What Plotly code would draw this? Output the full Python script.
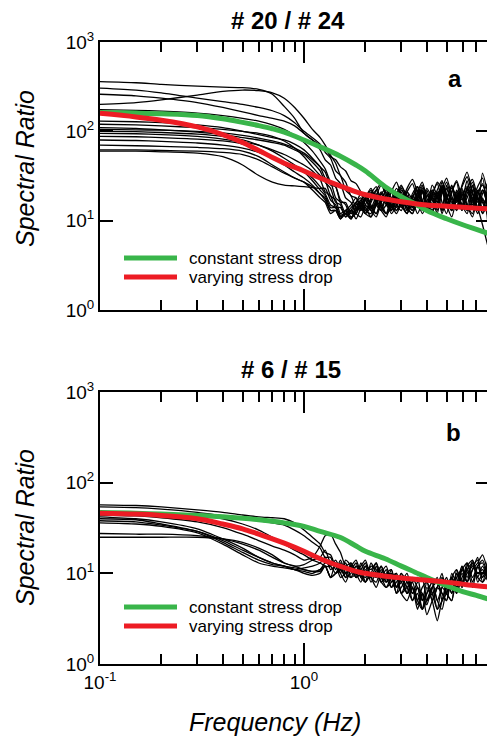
import plotly.graph_objects as go

W, H = 487, 738

# ---------------- data ----------------
FREQ_LOW = [0.1, 0.15, 0.2, 0.3, 0.4, 0.5, 0.6, 0.7, 0.8, 0.9, 1.0, 1.1]
FREQ_HIGH = [1.2, 1.27, 1.35, 1.43, 1.51, 1.6, 1.7, 1.8, 1.9, 2.0,
             2.13, 2.26, 2.39, 2.53, 2.68, 2.84, 3.0, 3.2, 3.4, 3.6,
             3.8, 4.0, 4.25, 4.5, 4.75, 5.0, 5.3, 5.6, 5.95, 6.3,
             6.7, 7.1, 7.5, 8.0]
FREQ = FREQ_LOW + FREQ_HIGH

# panel a: individual spectral ratios (#20 / #24)
A01 = [360, 350, 335, 320, 312, 308, 295, 260, 190, 140, 95, 80,
       70, 64, 52, 48, 40, 36, 28, 26, 21, 17, 14, 19, 25, 20, 15, 12, 16, 23, 29, 21,
       16, 13, 19, 27, 22, 15, 11, 18, 24, 31, 20, 14, 22, 17]
A02 = [305, 290, 270, 235, 215, 200, 185, 170, 150, 125, 100, 85,
       72, 58, 50, 36, 32, 22, 19, 14, 13, 18, 23, 17, 13, 15, 21, 27, 19, 14, 12, 17,
       24, 20, 15, 22, 28, 17, 13, 19, 14, 23, 29, 18, 12, 16]
A03 = [200, 210, 225, 255, 280, 290, 285, 270, 235, 185, 140, 105,
       85, 70, 54, 44, 32, 27, 19, 18, 14, 12, 16, 22, 26, 18, 13, 17, 24, 19, 15, 21,
       27, 18, 13, 16, 23, 30, 19, 14, 25, 35, 21, 13, 18, 11]
A04 = [260, 250, 235, 210, 185, 165, 150, 140, 130, 115, 95, 80,
       62, 48, 42, 30, 26, 18, 16, 12, 11, 15, 20, 24, 16, 12, 14, 20, 25, 17, 13, 18,
       23, 15, 20, 26, 16, 12, 21, 28, 18, 13, 17, 24, 30, 8]
A05 = [175, 172, 168, 160, 150, 140, 130, 118, 105, 90, 75, 60,
       46, 38, 27, 24, 17, 15, 11, 12, 16, 20, 15, 12, 17, 22, 18, 13, 16, 21, 26, 17,
       12, 15, 22, 18, 27, 20, 13, 17, 23, 15, 11, 19, 26, 14]
A06 = [130, 128, 125, 118, 110, 100, 92, 85, 80, 72, 62, 50,
       40, 30, 27, 18, 16, 12, 13, 10.5, 14, 18, 13, 16, 21, 17, 12, 15, 22, 18, 14, 20,
       25, 16, 12, 19, 23, 15, 21, 27, 14, 18, 24, 13, 34, 19]
A07 = [120, 118, 115, 110, 105, 100, 95, 88, 78, 65, 52, 40,
       32, 28, 19, 17, 12, 13, 10.5, 13, 17, 14, 11, 15, 20, 16, 13, 19, 16, 12, 18, 24,
       17, 13, 21, 16, 25, 19, 14, 22, 17, 28, 15, 21, 16, 12]
A08 = [110, 108, 104, 98, 92, 85, 80, 75, 70, 62, 55, 45,
       36, 27, 23, 16, 15, 11, 13, 12, 16, 13, 18, 22, 15, 12, 17, 23, 19, 14, 12, 18,
       21, 14, 25, 19, 13, 17, 24, 18, 13, 20, 27, 16, 22, 14]
A09 = [100, 99, 97, 93, 88, 80, 70, 60, 50, 42, 35, 28,
       22, 19, 14, 14, 11.5, 12, 10.5, 14, 16, 12, 11, 16, 20, 15, 13, 18, 14, 21, 17, 12,
       16, 23, 18, 14, 20, 27, 17, 13, 19, 24, 14, 21, 17, 11]
A10 = [95, 94, 92, 88, 82, 76, 70, 62, 55, 48, 42, 36,
       29, 21, 19, 14, 14, 11, 13, 16, 18, 13, 12, 17, 14, 19, 22, 15, 18, 13, 20, 24,
       14, 19, 17, 12, 21, 18, 25, 16, 20, 13, 22, 18, 14, 20]
A11 = [88, 87, 85, 82, 78, 72, 62, 52, 45, 40, 36, 30,
       24, 20, 15, 14, 11, 12, 10.5, 15, 17, 20, 14, 12, 17, 21, 13, 18, 23, 15, 13, 19,
       22, 14, 18, 13, 24, 19, 14, 21, 15, 23, 18, 13, 20, 27]
A12 = [80, 79, 77, 74, 70, 65, 58, 50, 42, 35, 30, 25,
       20, 17, 13, 13, 10.5, 13, 15, 18, 14, 12, 17, 20, 14, 12, 18, 14, 21, 13, 19, 16,
       22, 14, 18, 21, 13, 23, 16, 19, 14, 22, 17, 12, 17, 15]
A13 = [70, 69, 68, 66, 64, 60, 52, 42, 35, 30, 27, 22,
       18, 16, 12, 13, 10.5, 12, 14, 16, 20, 15, 13, 11, 16, 19, 21, 15, 13, 19, 14, 18,
       13, 22, 15, 19, 12, 18, 23, 14, 21, 15, 25, 17, 22, 14]
A14 = [62, 62, 61, 60, 58, 55, 48, 40, 34, 30, 27, 24,
       20, 18, 13, 13, 10.5, 13, 12, 16, 13, 17, 21, 15, 13, 18, 14, 20, 15, 12, 18, 22,
       15, 13, 19, 14, 22, 16, 13, 21, 15, 12, 20, 14, 9, 5]
A15 = [60, 60, 59, 57, 52, 42, 32, 27, 25, 24.5, 24, 23.5,
       23, 23, 17, 15, 11, 12, 10.5, 13, 15, 18, 22, 16, 13, 11, 16, 20, 15, 12, 18, 14,
       21, 15, 13, 20, 23, 14, 18, 13, 22, 15, 12, 21, 25, 16]
A16 = [105, 104, 103, 100, 96, 90, 84, 78, 72, 65, 57, 48,
       40, 35, 25, 24, 16, 16, 12, 13, 15, 12, 14, 16, 20, 23, 15, 13, 17, 21, 14, 24,
       16, 13, 22, 18, 14, 25, 15, 20, 13, 23, 16, 22, 12, 27]
A_CURVES = [A01, A02, A03, A04, A05, A06, A07, A08, A09, A10, A11, A12, A13, A14, A15, A16]

# panel b: individual spectral ratios (#6 / #15)
B01 = [57, 56, 54, 50, 47, 44, 42, 41, 40, 36, 30, 25,
       21, 17, 16, 12, 13, 10, 12, 14, 10, 9, 12, 11, 8, 9, 10, 7, 9, 6, 8, 9,
       5, 6, 8, 5, 7, 9, 6, 10, 8, 13, 9, 12, 14, 9]
B02 = [54, 53, 51, 47, 43, 40, 38, 36, 34, 30, 26, 22,
       19, 15, 15, 11, 14, 10, 9, 12, 11, 8, 10, 13, 9, 11, 7, 8, 10, 6, 7, 5,
       7, 8, 5, 7, 10, 6, 9, 11, 7, 12, 14, 8, 10, 13]
B03 = [42, 40, 37, 31, 24, 19, 15, 13, 12, 11.5, 11, 10.5,
       11, 13, 12, 10, 11, 13, 9, 10, 12, 14, 9, 8, 11, 9, 10, 6, 7, 9, 5, 7,
       4, 6, 8, 5, 4, 7, 9, 6, 12, 8, 11, 15, 8, 10]
B04 = [40, 39, 35, 29, 22, 17, 14, 12.5, 12, 11, 10.5, 10,
       11, 12, 9, 10, 12, 9, 13, 10, 8, 11, 9, 7, 10, 12, 8, 9, 6, 8, 7, 4.5,
       6, 5, 7, 9, 5, 8, 6, 10, 7, 11, 13, 9, 12, 8]
B05 = [38, 37, 34, 29, 23, 18, 15, 13, 12, 11, 11.5, 12,
       13, 15, 11, 12, 9, 10, 11, 13, 9, 12, 8, 10, 9, 7, 8, 10, 6, 5, 7, 4,
       6, 3.5, 5, 7, 9, 6, 5, 11, 8, 10, 12, 14, 9, 13]
B06 = [36, 35, 33, 28, 21, 16, 13, 12, 11.5, 11, 10, 9.5,
       10, 12, 9, 13, 10, 8, 11, 9, 10, 8, 13, 10, 8, 7, 9, 10, 6, 7, 8, 5,
       4, 7, 5, 3, 5, 6, 9, 7, 10, 8, 11, 13, 16, 10]
B07 = [27.5, 27, 27, 26, 24, 21, 18, 15, 13, 12, 12.5, 14,
       15, 18, 13, 13, 10, 14, 12, 9, 13, 10, 9, 12, 8, 10, 11, 7, 8, 10, 6, 8,
       9, 5, 6, 7, 6, 5, 9, 7, 11, 13, 8, 12, 9, 14]
B08 = [25, 25, 25, 25, 24, 22, 19, 16, 13, 12, 11, 10.5,
       10.5, 12, 9, 10, 11, 9, 10, 12, 9, 8, 10, 9, 12, 8, 9, 6, 9, 7, 5, 6,
       4, 5, 7, 4, 5, 7, 8, 6, 9, 11, 7, 12, 13, 8]
B09 = [44, 43, 41, 37, 32, 27, 23, 20, 18, 16, 14, 15,
       20, 26, 27, 21, 17, 12, 13, 10, 11, 13, 9, 10, 12, 9, 7, 9, 8, 6, 9, 7,
       6, 4.5, 7, 8, 6, 5, 10, 8, 12, 9, 13, 9, 8, 15]
B10 = [48, 47, 46, 44, 40, 35, 30, 25, 21, 18, 16, 14,
       13, 12, 12, 14, 11, 10, 12, 9, 10, 12, 11, 13, 9, 8, 11, 7, 10, 8, 6, 7,
       5, 8, 6, 4, 7, 6, 5, 9, 11, 8, 14, 10, 11, 8]
B_CURVES = [B01, B02, B03, B04, B05, B06, B07, B08, B09, B10]

# model fits
MODEL_FREQ = [0.1, 0.15, 0.2, 0.3, 0.4, 0.5, 0.6, 0.7, 0.8, 1.0, 1.2,
              1.5, 1.8, 2.0, 2.5, 3.0, 3.5, 4.0, 5.0, 6.0, 7.0, 8.0]
A_CONST = [163, 160, 157, 150, 138, 126, 116, 107, 98, 80, 67,
           53, 42, 36, 24, 18.5, 15.5, 13, 10.5, 9, 8, 7.2]
A_VARY = [159, 145, 133, 112, 92, 75, 61, 51, 44, 36, 30,
          24.5, 21, 19.5, 17.5, 16.3, 15.5, 15, 14.5, 14.1, 13.8, 13.6]
B_CONST = [46.8, 46, 45, 43.4, 42, 40.5, 39, 37.5, 36, 33, 29,
           25, 20, 17.5, 14.5, 12, 10.3, 9.0, 7.3, 6.3, 5.7, 5.2]
B_VARY = [46, 45, 43.5, 40, 35, 31, 27, 24, 21.5, 17.5, 14.5,
          12, 10.5, 10, 9.3, 8.9, 8.6, 8.4, 8.0, 7.6, 7.3, 7.1]

X_TICKS = [0.1, 1]
X_TICK_TEXT = ["10<sup>-1</sup>", "10<sup>0</sup>"]
X_MINOR = [0.2, 0.3, 0.4, 0.5, 0.6, 0.7, 0.8, 0.9, 2, 3, 4, 5, 6, 7, 8]
Y_TICKS = [1, 10, 100, 1000]
Y_TICK_TEXT = ["10<sup>0</sup>", "10<sup>1</sup>", "10<sup>2</sup>", "10<sup>3</sup>"]

TITLES = ["# 20 / # 24", "# 6 / # 15"]
PANEL_LABELS = ["a", "b"]
LEGEND_NAMES = ["constant stress drop", "varying stress drop"]
Y_TITLE = "Spectral Ratio"
X_TITLE = "Frequency (Hz)"

GREEN = "#39b54a"
RED = "#ed1c24"
FONT = "Liberation Sans, Arial, sans-serif"

for c in A_CURVES + B_CURVES:
    assert len(c) == len(FREQ), len(c)


def px(x):
    return x / W


def py(y):
    return 1 - y / H


fig = go.Figure()

for curves, xa, ya in [(A_CURVES, "x", "y"), (B_CURVES, "x2", "y2")]:
    for c in curves:
        fig.add_trace(go.Scatter(x=FREQ, y=c, mode="lines", xaxis=xa, yaxis=ya,
                                 line=dict(color="black", width=1.3, shape="spline", smoothing=0.6),
                                 showlegend=False, hoverinfo="skip"))

for const, vary, xa, ya in [(A_CONST, A_VARY, "x", "y"), (B_CONST, B_VARY, "x2", "y2")]:
    fig.add_trace(go.Scatter(x=MODEL_FREQ, y=const, mode="lines", xaxis=xa, yaxis=ya,
                             line=dict(color=GREEN, width=5, shape="spline"),
                             showlegend=False, name=LEGEND_NAMES[0]))
    fig.add_trace(go.Scatter(x=MODEL_FREQ, y=vary, mode="lines", xaxis=xa, yaxis=ya,
                             line=dict(color=RED, width=5, shape="spline"),
                             showlegend=False, name=LEGEND_NAMES[1]))

XR = [-1, (487 - 304) / 204]
YR = [0, 3]
dom_x = [px(100), 1]
dom_a = [py(310), py(42)]
dom_b = [py(664), py(392)]

tickfont = dict(family=FONT, size=19, color="black")


def xaxis(anchor, labels):
    return dict(type="log", range=XR, domain=dom_x, anchor=anchor, automargin=False,
                showline=True, linecolor="black", linewidth=2, mirror="ticks",
                ticks="inside", ticklen=21, tickwidth=2, tickcolor="black",
                tickmode="array", tickvals=X_TICKS,
                ticktext=X_TICK_TEXT if labels else ["", ""],
                showticklabels=labels, tickfont=tickfont,
                minor=dict(tickmode="array", tickvals=X_MINOR, ticks="inside",
                           ticklen=10, tickwidth=2, tickcolor="black", showgrid=False),
                showgrid=False, zeroline=False, fixedrange=True)


def yaxis(anchor, dom):
    return dict(type="log", range=YR, domain=dom, anchor=anchor, automargin=False,
                showline=True, linecolor="black", linewidth=2,
                ticks="inside", ticklen=13, tickwidth=2, tickcolor="black",
                tickmode="array", tickvals=Y_TICKS, ticktext=Y_TICK_TEXT,
                tickfont=tickfont, showgrid=False, zeroline=False, fixedrange=True)


def yright(over, anchor):
    return dict(type="log", range=YR, overlaying=over, side="right", anchor=anchor,
                automargin=False, showline=False, ticks="inside", ticklen=11, tickwidth=2,
                tickcolor="black", tickmode="array", tickvals=Y_TICKS, showticklabels=False,
                showgrid=False, zeroline=False, fixedrange=True)


annotations = [
    dict(text="<b>%s</b>" % TITLES[0], x=px(288), y=py(20)),
    dict(text="<b>%s</b>" % TITLES[1], x=px(291), y=py(369)),
]
for a in annotations:
    a.update(xref="paper", yref="paper", showarrow=False, xanchor="center", yanchor="middle",
             font=dict(family=FONT, size=24, color="black"))

for lab, (x, y) in zip(PANEL_LABELS, [(455, 79), (453, 432)]):
    annotations.append(dict(text="<b>%s</b>" % lab, x=px(x), y=py(y), xref="paper", yref="paper",
                            showarrow=False, xanchor="center", yanchor="middle",
                            font=dict(family=FONT, size=24, color="black")))

for y in [169, 528]:
    annotations.append(dict(text="<i>%s</i>" % Y_TITLE, x=px(25), y=py(y), xref="paper", yref="paper",
                            showarrow=False, textangle=-90, xanchor="center", yanchor="middle",
                            font=dict(family=FONT, size=25, color="black")))
annotations.append(dict(text="<i>%s</i>" % X_TITLE, x=px(275), y=py(722), xref="paper", yref="paper",
                        showarrow=False, xanchor="center", yanchor="middle",
                        font=dict(family=FONT, size=25, color="black")))

shapes = []
for ys in [(258, 277), (607, 626)]:
    for name, col, y in zip(LEGEND_NAMES, [GREEN, RED], ys):
        shapes.append(dict(type="line", xref="paper", yref="paper", x0=px(124), x1=px(177),
                           y0=py(y), y1=py(y), line=dict(color=col, width=5)))
        annotations.append(dict(text=name, x=px(187), y=py(y), xref="paper", yref="paper",
                                showarrow=False, xanchor="left", yanchor="middle",
                                font=dict(family=FONT, size=17, color="black")))

fig.add_trace(go.Scatter(x=[None], y=[None], xaxis="x", yaxis="y3", showlegend=False))
fig.add_trace(go.Scatter(x=[None], y=[None], xaxis="x2", yaxis="y4", showlegend=False))

fig.update_layout(
    width=W, height=H, margin=dict(l=0, r=0, t=0, b=0, autoexpand=False),
    paper_bgcolor="white", plot_bgcolor="white", showlegend=False,
    xaxis=xaxis("y", False), yaxis=yaxis("x", dom_a),
    xaxis2=xaxis("y2", True), yaxis2=yaxis("x2", dom_b),
    yaxis3=yright("y", "x"), yaxis4=yright("y2", "x2"),
    annotations=annotations, shapes=shapes,
)

fig.write_html("out.html", config={"displayModeBar": False})
